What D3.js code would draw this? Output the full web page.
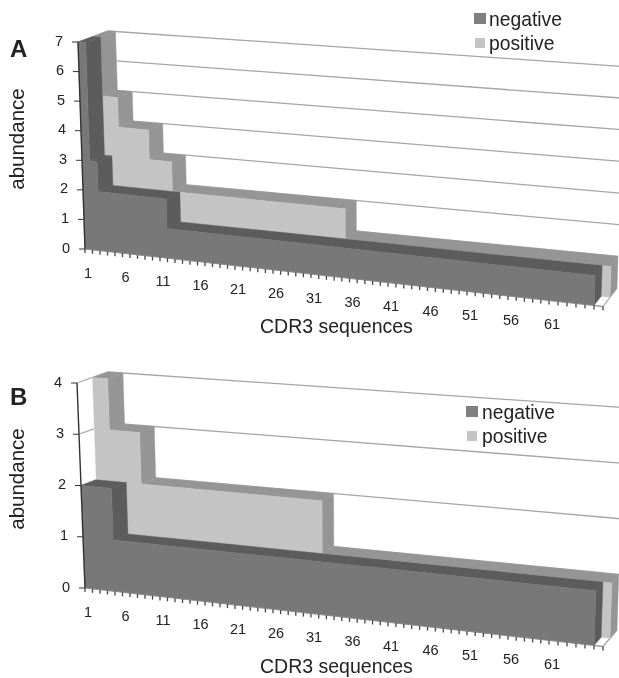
<!DOCTYPE html>
<html><head><meta charset="utf-8">
<script src="https://cdnjs.cloudflare.com/ajax/libs/d3/7.8.5/d3.min.js"></script>
<style>html,body{margin:0;padding:0;background:#fff}svg{display:block}text{font-family:"Liberation Sans",Arial,sans-serif;fill:#222}</style>
</head><body><svg id="c" width="619" height="678"></svg>
<script>
const seriesNames = ["negative", "positive"];
const categoryTicks = [1,6,11,16,21,26,31,36,41,46,51,56,61];
const negativeA = [7,3,2,2,2,2,2,2,2,2,2,
  1,1,1,1,1,1,1,1,1,1,1,1,1,1,1,1,1,1,1,1,1,1,1,1,1,1,1,1,1,1,1,1,1,1,1,1,1,1,1,1,1,1,1,1,1,1,1,1,1,1,1,1,1,1,0];
const positiveA = [7,5,5,4,4,4,4,3,3,3,
  2,2,2,2,2,2,2,2,2,2,2,2,2,2,2,2,2,2,2,2,2,2,2,
  1,1,1,1,1,1,1,1,1,1,1,1,1,1,1,1,1,1,1,1,1,1,1,1,1,1,1,1,1,1,1,1,1];
const negativeB = [2,2,2,2,
  1,1,1,1,1,1,1,1,1,1,1,1,1,1,1,1,1,1,1,1,1,1,1,1,1,1,1,1,1,1,1,1,1,1,1,1,1,1,1,1,1,1,1,1,1,1,1,1,1,1,1,1,1,1,1,1,1,1,1,1,1,0];
const positiveB = [4,4,3,3,3,3,
  2,2,2,2,2,2,2,2,2,2,2,2,2,2,2,2,2,2,2,2,2,2,2,2,
  1,1,1,1,1,1,1,1,1,1,1,1,1,1,1,1,1,1,1,1,1,1,1,1,1,1,1,1,1,1,1,1,1,1,1,1];

const colors = {negFront:"#787878", negSide:"#5c5c5c", posFront:"#c4c4c4", posSide:"#959595",
                grid:"#a6a6a6", axis:"#333", tick:"#444"};
const svg = d3.select("#c");
const defs = svg.append("defs");
defs.append("filter").attr("id","soft").append("feGaussianBlur").attr("stdDeviation",0.35);
const root = svg.append("g").attr("filter","url(#soft)");

// category position along the x axis (slightly widening with perspective)
const xT = d3.scaleLinear().domain([0,10,20,30,40,50,60,66]).range([0,75,150,226,303,382,464,518].map(v=>v/518));

function runsOf(arr){
  const r=[]; let s=0;
  for(let i=1;i<=arr.length;i++){ if(i===arr.length||arr[i]!==arr[s]){ r.push({k0:s,k1:i,v:arr[s]}); s=i; } }
  return r;
}

function drawChart(o){
  const g = root.append("g");
  const yU = d3.scaleLinear().domain([0,o.max]).range([0,1]);
  const dW = d3.scaleLinear().domain([0,2]).range([0,1]);
  const lerp=(a,b,t)=>[a[0]+(b[0]-a[0])*t,a[1]+(b[1]-a[1])*t];
  const P=(k,d,v)=>{
    const t=xT(k),w=dW(d),u=yU(v),c=o.box;
    const bf=lerp(c.flb,c.frb,t), bb=lerp(c.blb,c.brb,t), tf=lerp(c.flt,c.frt,t), tb=lerp(c.blt,c.brt,t);
    return lerp(lerp(bf,bb,w),lerp(tf,tb,w),u);
  };
  const line=d3.line();
  const poly=(pts,fill)=>g.append("path").attr("d",line(pts)+"Z").attr("fill",fill).attr("stroke",fill).attr("stroke-width",0.4);

  // walls: gridlines on the back wall and side wall
  d3.range(1,o.max+1).forEach(v=>{
    const a=P(0,0,v),b=P(0,2,v),c=P(66,2,v);
    g.append("path").attr("d",line([a,b,c])).attr("fill","none").attr("stroke",colors.grid).attr("stroke-width",1.3);
  });
  // floor edge
  g.append("path").attr("d",line([P(65,0,0),P(66,0,0),P(66,2,0)])).attr("fill","none").attr("stroke",colors.grid).attr("stroke-width",1.2);

  // one ribbon per series, back one first
  const ribbon=(arr,d0,d1,front,side)=>{
    const runs=runsOf(arr).filter(r=>r.v>0);
    runs.forEach((r,i)=>{
      const next=runs[i+1]?runs[i+1].v:0;
      poly([P(r.k0,d0,r.v),P(r.k1,d0,r.v),P(r.k1,d1,r.v),P(r.k0,d1,r.v)],side);
      poly([P(r.k1,d0,next),P(r.k1,d0,r.v),P(r.k1,d1,r.v),P(r.k1,d1,next)],side);
    });
    const outline=[P(0,d0,0)];
    runs.forEach(r=>{outline.push(P(r.k0,d0,r.v));outline.push(P(r.k1,d0,r.v));});
    outline.push(P(runs[runs.length-1].k1,d0,0));
    poly(outline,front);
  };
  ribbon(o.pos,1,2,colors.posFront,colors.posSide);
  ribbon(o.neg,0,1,colors.negFront,colors.negSide);

  // y axis
  g.append("path").attr("d",line([P(0,0,0),P(0,0,o.max)])).attr("fill","none").attr("stroke",colors.axis).attr("stroke-width",1.4);
  d3.range(0,o.max+1).forEach(v=>{
    const p=P(0,0,v);
    g.append("line").attr("x1",p[0]-6).attr("x2",p[0]).attr("y1",p[1]).attr("y2",p[1]).attr("stroke",colors.axis).attr("stroke-width",1);
    g.append("text").attr("x",p[0]-15).attr("y",p[1]-1.5).attr("dy","0.35em").attr("text-anchor","end").attr("font-size",14.5).text(v);
  });
  // x axis ticks
  g.append("path").attr("d",line([P(0,0,0),P(66,0,0)])).attr("fill","none").attr("stroke","#8a8a8a").attr("stroke-width",0.8);
  d3.range(0,67).forEach(k=>{
    const p=P(k,0,0);
    g.append("line").attr("x1",p[0]).attr("x2",p[0]).attr("y1",p[1]).attr("y2",p[1]+4).attr("stroke",colors.tick).attr("stroke-width",1.3);
  });
  categoryTicks.forEach(c=>{
    const p=P(c-1,0,0);
    g.append("text").attr("x",p[0]+3).attr("y",p[1]+23.5).attr("dy","0.35em").attr("text-anchor","middle").attr("font-size",14.5).text(c);
  });
  // titles
  g.append("text").attr("x",o.letter[0]).attr("y",o.letter[1]).attr("font-size",24).attr("font-weight","bold").attr("fill","#111").text(o.name);
  g.append("text").attr("x",260).attr("y",o.xTitleY).attr("font-size",19.5).text("CDR3 sequences");
  g.append("text").attr("transform",`translate(24,${o.yTitleY}) rotate(-90)`).attr("text-anchor","middle").attr("font-size",20.5).text("abundance");
  // legend
  seriesNames.forEach((n,i)=>{
    const l=o.legend[i];
    g.append("rect").attr("x",l.sx).attr("y",l.sy).attr("width",l.s).attr("height",l.h).attr("fill",i?colors.posFront:"#808080");
    g.append("text").attr("x",l.tx).attr("y",l.ty).attr("font-size",19.3).text(n);
  });
}

drawChart({name:"A",max:7,neg:negativeA,pos:positiveA,letter:[10,57],xTitleY:333,yTitleY:139,
  box:{flb:[85,249],flt:[78,42],blb:[115,237],blt:[108,31],frb:[603,306.5],frt:[611,96.5],brb:[617,288],brt:[624,66.5]},
  legend:[{sx:474,sy:13,s:12,h:11,tx:489,ty:26},{sx:475,sy:38,s:10,h:10,tx:489,ty:50}]});
drawChart({name:"B",max:4,neg:negativeB,pos:positiveB,letter:[10,405],xTitleY:673,yTitleY:479,
  box:{flb:[85,588],flt:[77,383],blb:[115,576],blt:[108,372],frb:[603,646.5],frt:[611,427],brb:[617,630],brt:[624,407.5]},
  legend:[{sx:466,sy:406,s:12,h:11,tx:482,ty:419},{sx:467,sy:431,s:10,h:10,tx:482,ty:443}]});
</script></body></html>
